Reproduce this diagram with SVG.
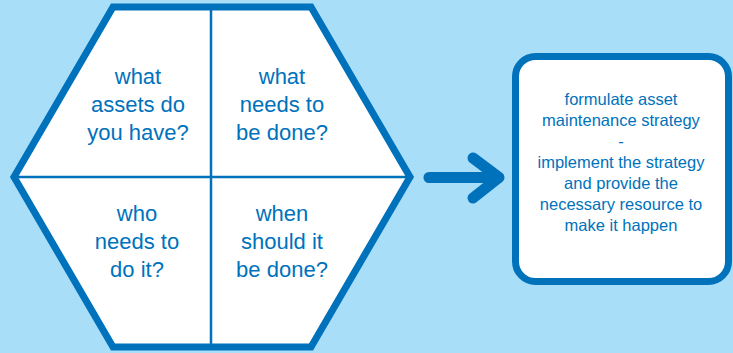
<svg xmlns="http://www.w3.org/2000/svg" width="733" height="353" viewBox="0 0 733 353">
<style>
.hex{fill:#ffffff;stroke:#0072BC;stroke-width:7;stroke-linejoin:miter}
.div{stroke:#0072BC;stroke-width:2.5;fill:none}
.q{font-family:"Liberation Sans",Arial,sans-serif;font-size:22px;fill:#0072BC;text-anchor:middle}
.b{font-family:"Liberation Sans",Arial,sans-serif;font-size:16.5px;fill:#0072BC;text-anchor:middle}
.arr{stroke:#0072BC;stroke-width:11;fill:none;stroke-linecap:round;stroke-linejoin:round}
.box{fill:#ffffff;stroke:#0072BC;stroke-width:7}
</style>
<rect x="0" y="0" width="733" height="353" fill="#A9DEF9"/>
<g id="hexagon">
<polygon class="hex" points="113,7 311,7 410,177 311,347 113,347 14,177"/>
<line class="div" x1="211" y1="9" x2="211" y2="345"/>
<line class="div" x1="17" y1="177" x2="407" y2="177"/>
</g>
<g id="q1">
<text class="q" x="138" y="84">what</text>
<text class="q" x="138" y="112">assets do</text>
<text class="q" x="138" y="140">you have?</text>
</g>
<g id="q2">
<text class="q" x="282" y="84">what</text>
<text class="q" x="282" y="112">needs to</text>
<text class="q" x="282" y="140">be done?</text>
</g>
<g id="q3">
<text class="q" x="137" y="221">who</text>
<text class="q" x="137" y="249">needs to</text>
<text class="q" x="137" y="277">do it?</text>
</g>
<g id="q4">
<text class="q" x="282" y="221">when</text>
<text class="q" x="282" y="249">should it</text>
<text class="q" x="282" y="277">be done?</text>
</g>
<g id="connectors">
<line class="arr" x1="429" y1="177.5" x2="497" y2="177.5"/>
<polyline class="arr" points="473,158 499,177.5 473,198"/>
</g>
<g id="strategy">
<rect class="box" x="515.5" y="56.5" width="213" height="225" rx="20" ry="20"/>
<text class="b" x="621" y="105">formulate asset</text>
<text class="b" x="621" y="126">maintenance strategy</text>
<text class="b" x="621" y="147">-</text>
<text class="b" x="621" y="168">implement the strategy</text>
<text class="b" x="621" y="189">and provide the</text>
<text class="b" x="621" y="210">necessary resource to</text>
<text class="b" x="621" y="231">make it happen</text>
</g>
</svg>
